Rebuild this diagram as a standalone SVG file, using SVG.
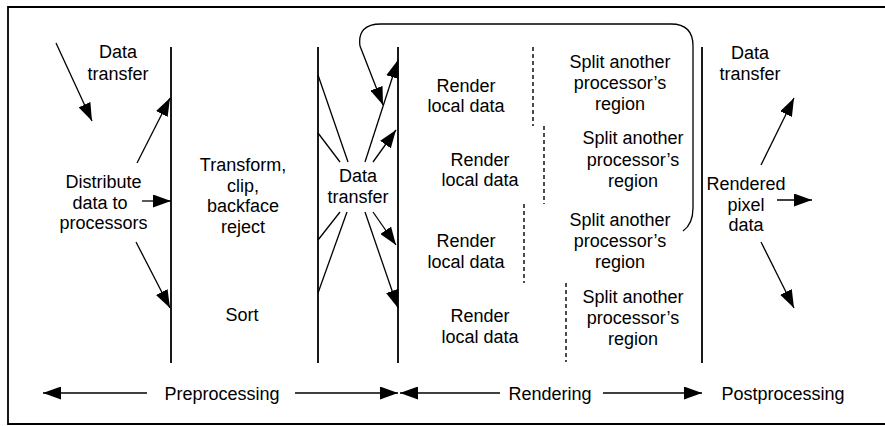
<svg xmlns="http://www.w3.org/2000/svg" width="885" height="426" viewBox="0 0 885 426">
<defs>
<marker id="ah" markerUnits="userSpaceOnUse" markerWidth="19" markerHeight="13" refX="18" refY="6.5" orient="auto">
<path d="M0,0 L18,6.5 L0,13 z" fill="#000"/>
</marker>
<style>
text{font-family:"Liberation Sans",Arial,Helvetica,sans-serif;font-size:18px;fill:#000;text-anchor:middle}
.ln{stroke:#000;stroke-width:1.3;fill:none}
.ar{stroke:#000;stroke-width:1.3;fill:none;marker-end:url(#ah)}
.bar{stroke:#000;stroke-width:1.8;fill:none}
.dash{stroke:#000;stroke-width:1.4;stroke-dasharray:4 3;fill:none}
</style>
</defs>
<rect width="885" height="426" fill="#fff"/>
<path d="M885,7 H8 V424 H885" class="bar"/>

<g id="stage-lines">
<line x1="171" y1="47" x2="171" y2="363" class="bar"/>
<line x1="318" y1="47" x2="318" y2="363" class="bar"/>
<line x1="398" y1="47" x2="398" y2="363" class="bar"/>
<line x1="702" y1="47" x2="702" y2="363" class="bar"/>
</g>

<g id="dividers">
<line x1="533" y1="47" x2="533" y2="126" class="dash"/>
<line x1="544" y1="126" x2="544" y2="204" class="dash"/>
<line x1="524" y1="204" x2="524" y2="283" class="dash"/>
<line x1="566" y1="283" x2="566" y2="362" class="dash"/>
</g>

<g id="connectors">
<line x1="56" y1="43" x2="92" y2="121" class="ar"/>
<line x1="137" y1="163" x2="170" y2="98" class="ar"/>
<line x1="142" y1="201" x2="171" y2="201" class="ar"/>
<line x1="136" y1="242" x2="170" y2="308" class="ar"/>
<line x1="318" y1="75" x2="348" y2="162" class="ln"/>
<line x1="318" y1="133" x2="340" y2="162" class="ln"/>
<line x1="340" y1="212" x2="318" y2="240" class="ln"/>
<line x1="347" y1="212" x2="318" y2="293" class="ln"/>
<line x1="365" y1="162" x2="398" y2="60" class="ar"/>
<line x1="373" y1="162" x2="396" y2="130" class="ar"/>
<line x1="373" y1="212" x2="396" y2="245" class="ar"/>
<line x1="365" y1="212" x2="398" y2="308" class="ar"/>
<path d="M683,231 Q693,224 693,208 L693,46 Q693,24 671,24 L381,24 Q357,24 360,46 L383,105" class="ar"/>
<line x1="761" y1="165" x2="794" y2="98" class="ar"/>
<line x1="777" y1="200" x2="812" y2="200" class="ar"/>
<line x1="761" y1="242" x2="794" y2="308" class="ar"/>
<line x1="147" y1="393" x2="43" y2="393" class="ar"/>
<line x1="295" y1="393" x2="398" y2="393" class="ar"/>
<line x1="500" y1="393" x2="400" y2="393" class="ar"/>
<line x1="603" y1="393" x2="702" y2="393" class="ar"/>
</g>

<g id="t-data-transfer-1"><text x="118" y="58">Data</text><text x="118" y="80">transfer</text></g>
<g id="t-distribute"><text x="103.5" y="188">Distribute</text><text x="100" y="208.5">data to</text><text x="103.5" y="229">processors</text></g>
<g id="t-transform"><text x="243" y="171">Transform,</text><text x="243" y="191.5">clip,</text><text x="243" y="212">backface</text><text x="243" y="233">reject</text></g>
<g id="t-sort"><text x="242" y="321">Sort</text></g>
<g id="t-data-transfer-2"><text x="358" y="182">Data</text><text x="358" y="203">transfer</text></g>
<g id="t-render-1"><text x="466" y="92">Render</text><text x="466" y="112">local data</text></g>
<g id="t-render-2"><text x="480" y="166">Render</text><text x="480" y="186">local data</text></g>
<g id="t-render-3"><text x="466" y="247">Render</text><text x="466" y="268">local data</text></g>
<g id="t-render-4"><text x="480" y="322">Render</text><text x="480" y="343">local data</text></g>
<g id="t-split-1"><text x="620" y="68">Split another</text><text x="620" y="89">processor’s</text><text x="620" y="110">region</text></g>
<g id="t-split-2"><text x="633" y="144">Split another</text><text x="633" y="165.5">processor’s</text><text x="633" y="187">region</text></g>
<g id="t-split-3"><text x="620" y="226">Split another</text><text x="620" y="247">processor’s</text><text x="620" y="268">region</text></g>
<g id="t-split-4"><text x="633" y="303">Split another</text><text x="633" y="324">processor’s</text><text x="633" y="345">region</text></g>
<g id="t-data-transfer-3"><text x="750" y="59">Data</text><text x="750" y="80">transfer</text></g>
<g id="t-rendered"><text x="746" y="190">Rendered</text><text x="746" y="210.5">pixel</text><text x="746" y="231">data</text></g>
<g id="t-phases"><text x="222" y="400">Preprocessing</text><text x="550" y="400">Rendering</text><text x="783" y="400">Postprocessing</text></g>
</svg>
